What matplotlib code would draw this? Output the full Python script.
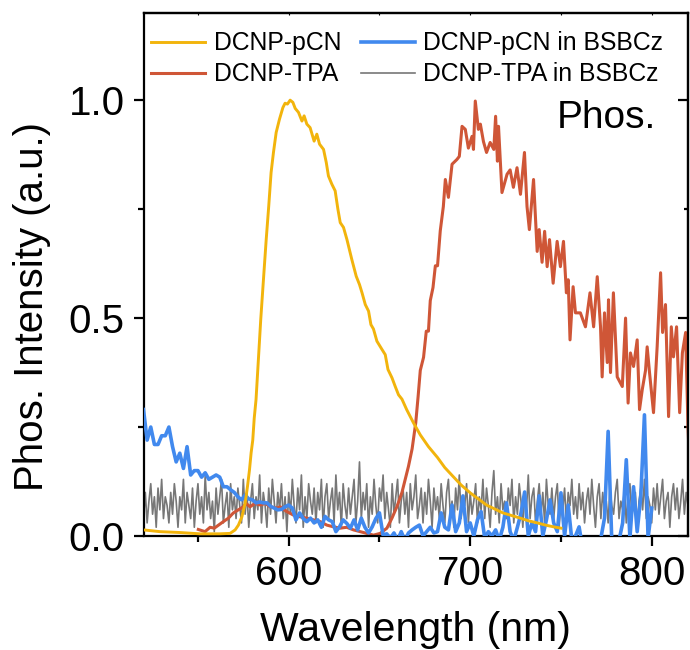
import numpy as np
import matplotlib
matplotlib.use("Agg")
import matplotlib.pyplot as plt
from matplotlib.ticker import MultipleLocator

plt.rcParams['font.family'] = ['Liberation Sans', 'DejaVu Sans']

# ---------------- data ----------------
pcn_nm = [520, 529, 540, 551, 562, 567.7, 570.5, 572.3, 574.2, 576, 577.3, 578.4, 579.3, 580.2, 581,
          582, 583.3, 584.6, 586.1, 587.6, 589, 590.3, 591.6, 593.1, 594.9, 596.8, 598, 599.3, 600.8,
          602.3, 603.6, 605.4, 607.3, 608.5, 610, 611.8, 614, 615.5, 617, 619.2, 620.7, 621.9, 623.8,
          625.6, 627.1, 628.4, 630.2, 632.1, 634.8, 637.2, 639, 640.4, 642.2, 644, 645.3, 646.7, 648.6,
          651.4, 653.2, 654.7, 656.9, 658.7, 660.5, 662.4, 665, 668.7, 672.5, 677, 682, 686, 690.7,
          695, 700, 704.5, 709, 713.5, 718, 722.8, 727.6, 732, 737, 741.5, 746, 750]
pcn_val = [.014, .010, .008, .005, .005, .006, .014, .025, .044, .075, .114, .152, .191, .22, .27,
           .313, .405, .497, .589, .68, .757, .834, .88, .926, .956, .983, .993, .991, 1.0,
           .995, .981, .972, .952, .964, .945, .937, .906, .922, .899, .887, .857, .826, .807,
           .792, .75, .719, .708, .68, .634, .596, .577, .558, .531, .516, .485, .475, .447,
           .428, .416, .382, .363, .343, .324, .314, .29, .26, .232, .205, .18, .157, .136,
           .117, .099, .085, .071, .062, .053, .047, .041, .035, .030, .025, .021, .018]

tpa_nm = [550.2, 553.9, 556.7, 559, 561.3, 564, 566.8, 569.5, 572.3, 575, 576.5, 578.7, 581.5, 584.3,
          587, 589.8, 593.5, 595.3, 599, 602.6, 606.3, 610, 613.7, 617.4, 621, 624.7, 628.4, 632,
          635.7, 639.4, 643.1, 646.7, 650.4, 654.1, 656.9, 659.6, 662.4, 664.2, 666, 668, 670, 671.3,
          672.5, 674.3, 675.8, 677, 678, 679.5, 680.8, 682, 683.5, 685.2, 686.3, 688, 690, 692.7,
          694, 695.5, 697.3, 699, 701, 701.8, 702.8, 704.5, 705.6, 707.3, 709, 711, 713, 714, 715,
          715.6, 717.5, 720.3, 722, 723.8, 725.8, 727.7, 729.9, 731.3, 732.6, 734.9, 736.9, 738,
          739.6, 741, 742.4, 743.7, 745.7, 747.9, 749.7, 751.4, 753, 754, 755, 756.7, 758, 760.7,
          763.5, 766, 768, 770, 771.8, 772.7, 774, 775.5, 776.2, 777.3, 778.9, 781, 783.8, 785.6,
          787, 788.3, 790, 792, 793.3, 794.8, 796.6, 797.5, 798.8, 801, 803, 804.9, 806, 807.6,
          809.3, 810.8, 812, 813.7, 815.4, 816.9, 818.7, 820, 820.5]
tpa_val = [.015, .010, .020, .018, .025, .033, .041, .053, .060, .067, .075, .067, .075, .071,
           .075, .067, .064, .067, .056, .048, .044, .041, .037, .033, .025, .021, .018, .020,
           .014, .010, .006, .002, .006, .018, .041, .067, .100, .130, .160, .200, .260, .320,
           .380, .410, .470, .470, .540, .570, .620, .620, .700, .756, .818, .777, .853, .864,
           .871, .940, .933, .890, .917, .887, .998, .933, .945, .905, .880, .903, .887, .963, .860,
           .940, .788, .830, .840, .800, .845, .784, .880, .756, .703, .818, .653, .703,
           .628, .699, .618, .680, .580, .676, .618, .676, .558, .588, .450, .572, .512, .512,
           .480, .558, .480, .595, .480, .365, .512, .398, .542, .375, .558, .365, .343, .500,
           .305, .420, .389, .450, .290, .336, .380, .434, .375, .283, .434, .604, .467, .531,
           .274, .480, .411, .480, .283, .420, .467, .250, .200]

# DCNP-pCN in BSBCz, every 2 nm from 520 nm
bsb_pcn_start, bsb_pcn_step = 520, 2
bsb_pcn_val = [.29, .22, .25, .21, .21, .23, .23, .25, .205, .17,
               .19, .155, .205, .14, .15, .15, .135, .145, .13, .135,
               .14, .135, .113, .113, .106, .10, .09, .083, .094, .085,
               .083, .076, .078, .076, .076, .068, .064, .06, .061, .067,
               .071, .064, .037, .053, .04, .033, .041, .03, .037, .02,
               .045, .037, .033, .01, .021, .037, .029, .018, .037, .014,
               .041, .02, .007, .021, .04, .053, .002, .005, -.005, .007,
               -.01, .01, -.01, .007, .014, .02, .025, .0, .01, .02,
               .007, .01, .053, .02, .014, .071, .01, .03, .092, .01,
               .03, .0, .037, .056, -.005, .01, .0, .014, -.01, .02,
               .076, .01, -.01, .02, .053, .101, .0, .03, .01, .092,
               .0, .037, .083, .03, .01, .099, .0, .071, -.01, .0,
               .021, -.03, -.04, -.03, -.02, -.03, -.005, .041, .24, -.01,
               -.02, -.01, .03, .175, -.005, .113, .01, .092, .278, -.005,
               .064]

# DCNP-TPA in BSBCz, every 1 nm from 520 nm (values in units of 0.01)
bsb_tpa_start, bsb_tpa_step = 520, 1
bsb_tpa_hundredths = [
    4, 10, 3, 8, 12, 5, 9, 2, 11, 6, 13, 4, 9, 7, 3, 10, 5, 12, 8, 2,
    9, 6, 13, 3, 10, 7, 4, 11, 2, 8, 12, 5, 9, 3, 14, 6, 10, 4, 8, 1,
    11, 5, 9, 13, 3, 7, 10, 2, 12, 6, 9, 4, 11, 7, 3, 13, 5, 10, 2, 8,
    12, 4, 9, 6, 14, 3, 10, 7, 2, 11, 5, 13, 8, 3, 10, 6, 12, 4, 9, 1,
    10, 5, 13, 7, 3, 11, 6, 14, 2, 9, 4, 12, 8, 5, 11, 3, 10, 6, 13, 2,
    9, 12, 4, 8, 11, 3, 14, 6, 10, 2, 12, 7, 4, 11, 5, 9, 13, 3, 8, 17,
    4, 10, 6, 12, 2, 9, 5, 13, 7, 3, 11, 8, 14, 4, 10, 6, 2, 12, 5, 9,
    13, 3, 8, 11, 5, 10, 2, 12, 6, 9, 14, 4, 7, 11, 3, 10, 5, 13, 8, 2,
    11, 6, 9, 4, 12, 7, 3, 10, 13, 5, 8, 2, 11, 6, 14, 4, 9, 7, 12, 3,
    10, 5, 8, 12, 3, 9, 6, 13, 4, 11, 7, 2, 10, 15, 5, 9, 3, 12, 6, 8,
    4, 11, 7, 13, 3, 9, 5, 12, 8, 2, 10, 6, 14, 4, 9, 11, 3, 8, 12, 5,
    10, 3, 13, 7, 5, 11, 4, 9, 12, 2, 8, 6, 11, 3, 10, 7, 13, 5, 9, 4,
    12, 6, 10, 3, 8, 11, 5, 13, 7, 2, 9, 12, 4, 10, 6, 8, 3, 11, 7, 5,
    10, 13, 4, 8, 6, 11, 3, 9, 12, 5, 7, 10, 2, 8, 11, 6, 13, 4, 9, 7,
    3, 11, 6, 12, 5, 9, 13, 4, 8, 10, 2, 9, 12, 6, 11, 4, 8, 13, 5, 10,
    7]

labels = ["DCNP-pCN", "DCNP-TPA", "DCNP-pCN in BSBCz", "DCNP-TPA in BSBCz"]
colors = ["#F2B40C", "#CF5637", "#4189EE", "#777777"]

x_ticks = [600, 700, 800]
y_ticks = [0.0, 0.5, 1.0]
y_ticklabels = ["0.0", "0.5", "1.0"]

# ---------------- plot ----------------
bsb_pcn_nm = bsb_pcn_start + bsb_pcn_step * np.arange(len(bsb_pcn_val))
bsb_tpa_nm = bsb_tpa_start + bsb_tpa_step * np.arange(len(bsb_tpa_hundredths))
bsb_tpa_val = np.array(bsb_tpa_hundredths) / 100.0

fig = plt.figure(figsize=(6.9, 6.5), dpi=100)
ax = fig.add_axes([143.5 / 690, (650 - 536) / 650, (688 - 143.5) / 690, (536 - 13) / 650])

l4, = ax.plot(bsb_tpa_nm, bsb_tpa_val, color=colors[3], lw=1.2, zorder=1)
l2, = ax.plot(tpa_nm, tpa_val, color=colors[1], lw=2.2, zorder=2)
l3, = ax.plot(bsb_pcn_nm, bsb_pcn_val, color=colors[2], lw=2.6, zorder=3)
l1, = ax.plot(pcn_nm, pcn_val, color=colors[0], lw=2.1, zorder=4)

ax.set_xlim(520, 820)
ax.set_ylim(0, 1.2)
ax.set_xticks(x_ticks)
ax.xaxis.set_minor_locator(MultipleLocator(50))
ax.set_yticks(y_ticks)
ax.set_yticklabels(y_ticklabels)
ax.yaxis.set_minor_locator(MultipleLocator(0.25))

for s in ax.spines.values():
    s.set_linewidth(1.6)
ax.tick_params(which='major', direction='out', length=7.5, width=1.6, labelsize=29, pad=6)
ax.tick_params(which='minor', direction='out', length=4.3, width=1.6)

secy = ax.secondary_yaxis('right')
secy.set_yticks(y_ticks)
secy.yaxis.set_minor_locator(MultipleLocator(0.25))
secy.tick_params(which='major', direction='in', length=7.5, width=1.6, labelright=False)
secy.tick_params(which='minor', direction='in', length=3, width=1.6)
secy.spines['right'].set_linewidth(1.6)

secx = ax.secondary_xaxis('top')
secx.set_xticks(x_ticks)
secx.xaxis.set_minor_locator(MultipleLocator(50))
secx.tick_params(which='both', direction='in', length=1.5, width=0.8, labeltop=False)
secx.spines['top'].set_linewidth(1.6)

ax.set_xlabel("Wavelength (nm)", fontsize=29.5)
ax.xaxis.set_label_coords(0.5, -0.143)
ax.set_ylabel("Phos. Intensity (a.u.)", fontsize=29)
ax.yaxis.set_label_coords(-0.17, 0.438)

ax.text(747.5, 0.935, "Phos.", fontsize=28, ha='left', va='baseline')

ax.legend([l1, l2, l3, l4], labels, ncol=2, loc='upper left',
          bbox_to_anchor=(0.0138, 0.965), frameon=False, fontsize=17.8,
          handlelength=2.2, handletextpad=0.33, columnspacing=0.8,
          labelspacing=0.28, borderpad=0, borderaxespad=0)

fig.savefig("out.png", dpi=100)
